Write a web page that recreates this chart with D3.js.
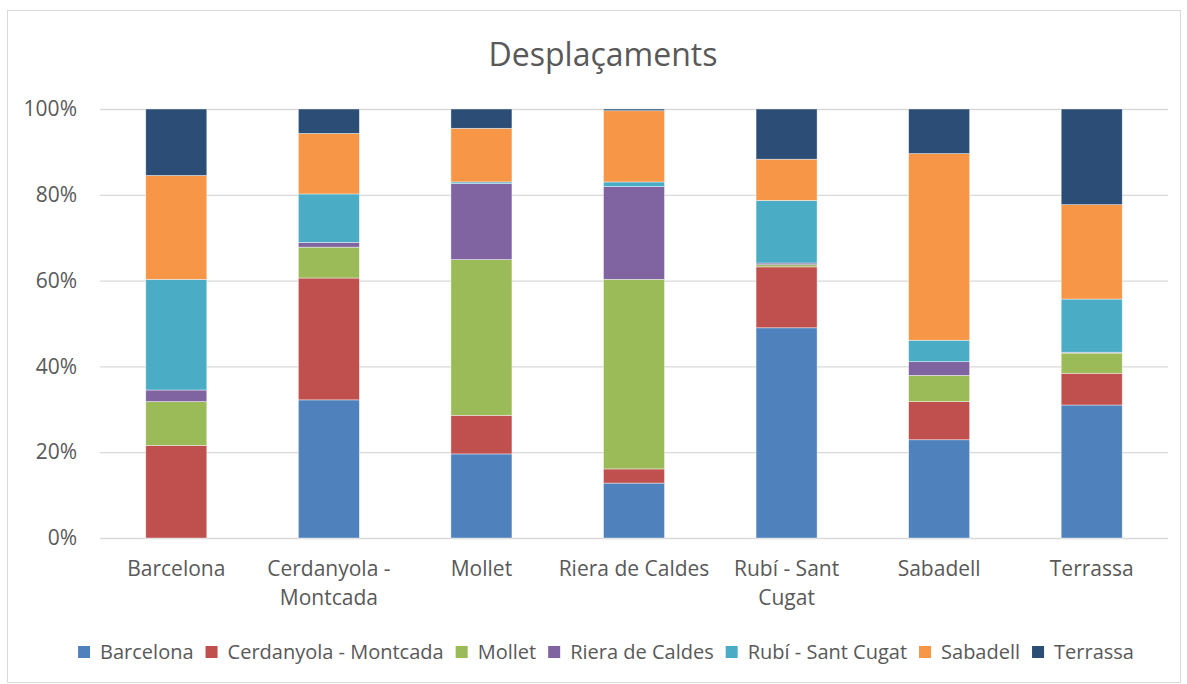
<!DOCTYPE html>
<html>
<head>
<meta charset="utf-8">
<title>Desplaçaments</title>
<script src="https://d3js.org/d3.v7.min.js"></script>
<style>
  body { margin: 0; background: #fff; }
  text { font-family: "Open Sans", sans-serif; fill: #595959; }
</style>
</head>
<body>
<div id="chart"></div>
<script>
// categories (origin zones) and series (destination zones)
var categories = ["Barcelona", "Cerdanyola - Montcada", "Mollet", "Riera de Caldes", "Rubí - Sant Cugat", "Sabadell", "Terrassa"];
var seriesNames = ["Barcelona", "Cerdanyola - Montcada", "Mollet", "Riera de Caldes", "Rubí - Sant Cugat", "Sabadell", "Terrassa"];
var seriesColors = ["#4F81BD", "#C0504D", "#9BBB59", "#8064A2", "#4BACC6", "#F79646", "#2C4D75"];

// share (%) per series, one value per category
var barcelona  = [0.0, 32.2, 19.6, 12.8, 49.0, 22.9, 31.0];
var cerdanyola = [21.6, 28.4, 9.0, 3.3, 14.2, 8.9, 7.4];
var mollet     = [10.2, 7.2, 36.3, 44.2, 0.5, 6.1, 4.7];
var riera      = [2.7, 1.1, 17.7, 21.6, 0.4, 3.2, 0.2];
var rubi       = [25.8, 11.3, 0.4, 1.1, 14.6, 5.0, 12.4];
var sabadell   = [24.2, 14.1, 12.5, 16.6, 9.6, 43.5, 22.0];
var terrassa   = [15.5, 5.7, 4.5, 0.4, 11.7, 10.4, 22.3];

var yTicks = [0, 0.2, 0.4, 0.6, 0.8, 1.0];

var seriesValues = [barcelona, cerdanyola, mollet, riera, rubi, sabadell, terrassa];

var W = 1187, H = 684;
var margin = {top: 109, right: 19, bottom: 146, left: 100};

var svg = d3.select("#chart").append("svg")
    .attr("width", W)
    .attr("height", H);

// chart border
svg.append("rect")
    .attr("x", 7.5).attr("y", 10.5)
    .attr("width", W - 14).attr("height", H - 12)
    .attr("fill", "#fff")
    .attr("stroke", "#D9D9D9");

// table for d3.stack, normalised to 100%
var rows = categories.map(function(c, i) {
    var r = {cat: c}, tot = 0;
    seriesNames.forEach(function(s, j) { tot += seriesValues[j][i]; });
    seriesNames.forEach(function(s, j) { r[s] = seriesValues[j][i] / tot; });
    return r;
});
var stacked = d3.stack().keys(seriesNames)(rows);

var x = d3.scaleBand()
    .domain(categories)
    .range([margin.left, W - margin.right])
    .paddingInner(0.6)
    .paddingOuter(0.3);

var y = d3.scaleLinear()
    .domain([0, 1])
    .range([H - margin.bottom, margin.top]);

// gridlines + y labels
var yAxis = svg.append("g")
    .attr("transform", "translate(" + margin.left + ",0)")
    .call(d3.axisLeft(y).tickValues(yTicks).tickFormat(d3.format(".0%"))
        .tickSize(-(W - margin.left - margin.right)).tickPadding(23));
yAxis.select(".domain").remove();
yAxis.selectAll(".tick line").attr("stroke", "#D9D9D9").attr("stroke-width", 1.3);
yAxis.selectAll(".tick text").attr("font-size", 21).attr("fill", "#595959")
    .attr("font-family", "Open Sans, sans-serif");

// bars
svg.append("g").selectAll("g")
    .data(stacked)
    .join("g")
    .attr("fill", function(d, i) { return seriesColors[i]; })
    .selectAll("rect")
    .data(function(d) { return d; })
    .join("rect")
    .attr("x", function(d) { return x(d.data.cat); })
    .attr("width", x.bandwidth())
    .attr("y", function(d) { return y(d[1]); })
    .attr("height", function(d) { return Math.max(0, y(d[0]) - y(d[1])); })
    .attr("stroke", "#fff")
    .attr("stroke-opacity", 0.6)
    .attr("stroke-width", 0.7);

// x labels, wrapped like excel
var xAxis = svg.append("g")
    .attr("transform", "translate(0," + (H - margin.bottom) + ")")
    .call(d3.axisBottom(x).tickSize(0).tickPadding(23));
xAxis.select(".domain").remove();
xAxis.selectAll(".tick text")
    .attr("font-size", 21).attr("fill", "#595959")
    .attr("font-family", "Open Sans, sans-serif")
    .each(function() { wrap(d3.select(this), 152); });

function wrap(t, maxW) {
    var words = t.text().split(" "), line = [], lineNo = 0;
    var yy = t.attr("y"), dy = parseFloat(t.attr("dy"));
    t.text(null);
    var ts = t.append("tspan").attr("x", 0).attr("y", yy).attr("dy", dy + "em");
    words.forEach(function(w) {
        line.push(w);
        ts.text(line.join(" "));
        if (ts.node().getComputedTextLength() > maxW && line.length > 1) {
            line.pop();
            ts.text(line.join(" "));
            line = [w];
            lineNo++;
            ts = t.append("tspan").attr("x", 0).attr("y", yy)
                .attr("dy", (lineNo * 1.4 + dy) + "em").text(w);
        }
    });
}

// title
svg.append("text")
    .attr("x", 603).attr("y", 66)
    .attr("text-anchor", "middle")
    .attr("font-size", 32)
    .text("Desplaçaments");

// legend
var legend = svg.append("g").attr("transform", "translate(0,652)");
var items = legend.selectAll("g")
    .data(seriesNames)
    .join("g");
items.append("rect")
    .attr("width", 12).attr("height", 12)
    .attr("y", -6)
    .attr("fill", function(d, i) { return seriesColors[i]; });
items.append("text")
    .attr("x", 22).attr("dy", "0.35em")
    .attr("font-size", 20)
    .text(function(d) { return d; });

var pos = 0, gap = 12;
var offs = [];
items.each(function() {
    offs.push(pos);
    pos += 22 + d3.select(this).select("text").node().getComputedTextLength() + gap;
});
var totalW = pos - gap, lx0 = 606 - totalW / 2;
items.attr("transform", function(d, i) { return "translate(" + (lx0 + offs[i]) + ",0)"; });
</script>
</body>
</html>
